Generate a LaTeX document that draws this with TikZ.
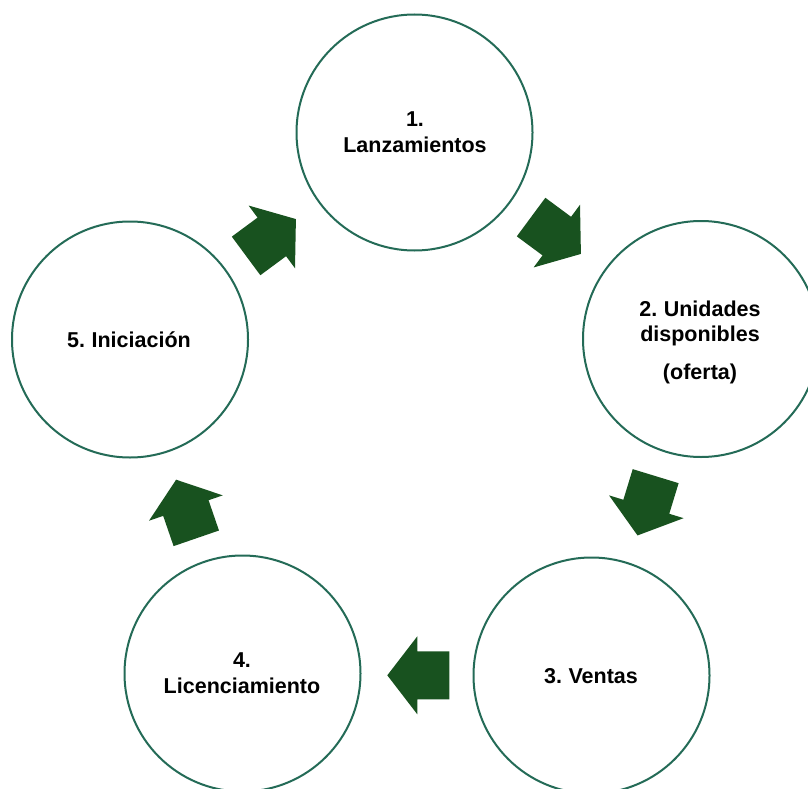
\documentclass[tikz,border=0pt]{standalone}
\usepackage{fontspec}
\setmainfont{Liberation Sans}[WordSpace=0.75]
\definecolor{ringcol}{HTML}{246B57}
\definecolor{arrcol}{HTML}{18521F}
\newcommand{\blockarr}[3]{\fill[arrowfill, shift={(#1,#2)}, rotate=#3] (-31,-24) -- (1,-24) -- (1,-39) -- (31,0) -- (1,39) -- (1,24) -- (-31,24) -- cycle;}
\begin{document}
\begin{tikzpicture}[x=1pt,y=-1pt,
  ring/.style={circle, draw=ringcol, line width=2pt, fill=white, minimum size=236pt, inner sep=0pt},
  lbl/.style={anchor=base, font=\fontsize{21.5}{25}\selectfont\bfseries, inner sep=0pt},
  arrowfill/.style={fill=arrcol}]
\useasboundingbox (0,0) rectangle (808,789);
\clip (0,0) rectangle (808,789);
\node[ring] (c1) at (414.5,132.5) {};
\node[ring] (c2) at (701,339) {};
\node[ring] (c3) at (591.5,675.5) {};
\node[ring] (c4) at (242.5,673.5) {};
\node[ring] (c5) at (130,339.5) {};
% labels
\node[lbl] (t1a) at (415,127) {1.};
\node[lbl] (t1b) at (415,153) {Lanzamientos};
\node[lbl] (t2a) at (700,316.5) {2. Unidades};
\node[lbl] (t2b) at (700,341) {disponibles};
\node[lbl] (t2c) at (700,379) {(oferta)};
\node[lbl] (t3) at (591,683) {3. Ventas};
\node[lbl] (t4a) at (242,667) {4.};
\node[lbl] (t4b) at (242,693) {Licenciamiento};
\node[lbl] (t5) at (129,347) {5. Iniciación};
% block arrows
\blockarr{271}{237.5}{36.5}
\blockarr{556}{235.5}{-36.5}
\blockarr{646.6}{505.8}{-107}
\blockarr{418.3}{675.3}{180}
\blockarr{186.2}{509}{109}
\end{tikzpicture}
\end{document}
